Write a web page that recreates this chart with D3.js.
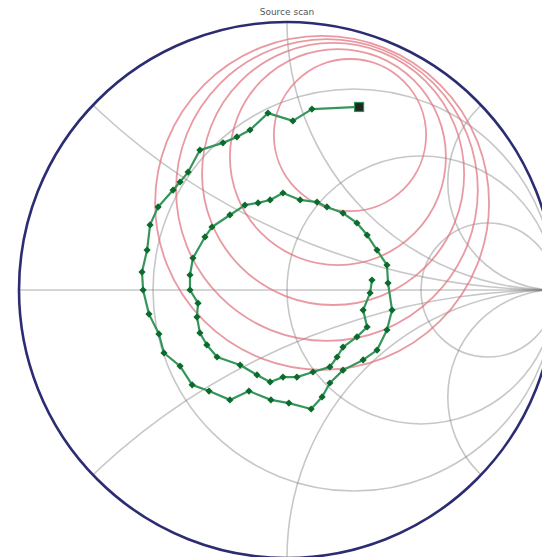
<!DOCTYPE html>
<html>
<head>
<meta charset="utf-8">
<script src="https://cdn.jsdelivr.net/npm/d3@7"></script>
<style>
  html, body { margin: 0; padding: 0; background: #fff; }
  svg { display: block; }
</style>
</head>
<body>
<div id="chart"></div>
<script>
// Reflection-coefficient trace (real / imaginary parts), in sweep order
const traceRe = [0.269, 0.093, 0.022, -0.071, -0.138, -0.187, -0.239, -0.325, -0.369, -0.399,
  -0.425, -0.481, -0.511, -0.522, -0.541, -0.537, -0.515, -0.478, -0.459, -0.399,
  -0.354, -0.291, -0.213, -0.142, -0.060, 0.007, 0.090, 0.131, 0.160, 0.209,
  0.284, 0.336, 0.373, 0.392, 0.377, 0.373, 0.336, 0.299, 0.261, 0.209,
  0.149, 0.112, 0.049, -0.015, -0.063, -0.108, -0.157, -0.213, -0.280, -0.306,
  -0.351, -0.362, -0.362, -0.332, -0.336, -0.325, -0.299, -0.261, -0.175, -0.112,
  -0.063, -0.015, 0.037, 0.097, 0.160, 0.187, 0.209, 0.261, 0.299, 0.284,
  0.310, 0.317];
const traceIm = [0.683, 0.675, 0.631, 0.660, 0.597, 0.571, 0.549, 0.522, 0.440, 0.403,
  0.373, 0.310, 0.243, 0.149, 0.067, 0.000, -0.090, -0.164, -0.235, -0.284,
  -0.354, -0.377, -0.410, -0.377, -0.410, -0.422, -0.444, -0.399, -0.347, -0.299,
  -0.261, -0.224, -0.149, -0.075, 0.026, 0.093, 0.149, 0.205, 0.250, 0.287,
  0.310, 0.328, 0.336, 0.362, 0.336, 0.325, 0.317, 0.280, 0.235, 0.198,
  0.119, 0.056, 0.000, -0.049, -0.101, -0.160, -0.205, -0.250, -0.280, -0.317,
  -0.343, -0.325, -0.325, -0.306, -0.287, -0.250, -0.213, -0.175, -0.138, -0.075,
  -0.011, 0.037];

// Constant-gain circles: centre (re, im) and radius in the reflection plane
const circleRe = [0.235, 0.190, 0.172, 0.149, 0.131];
const circleIm = [0.578, 0.496, 0.433, 0.373, 0.325];
const circleR  = [0.284, 0.403, 0.489, 0.563, 0.623];

// Grid values: normalised resistance circles and reactance arcs
const resistanceValues = [1 / 3, 1, 3];
const reactanceValues = [0.4, 1, 2.5, -0.4, -1, -2.5];

const chartLabel = "Source scan";

const W = 542, H = 557;
const cx = 287, cy = 290, R = 268;

const x = d3.scaleLinear().domain([-1, 1]).range([cx - R, cx + R]);
const y = d3.scaleLinear().domain([-1, 1]).range([cy + R, cy - R]);
const len = d => x(d) - x(0);

const svg = d3.select("#chart").append("svg")
  .attr("width", W).attr("height", H);

svg.append("defs").append("clipPath").attr("id", "disk")
  .append("circle").attr("cx", x(0)).attr("cy", y(0)).attr("r", len(1));

const grid = svg.append("g").attr("clip-path", "url(#disk)")
  .attr("fill", "none").attr("stroke", "#7a7a7a")
  .attr("stroke-opacity", 0.42).attr("stroke-width", 1.6);

// real axis
grid.append("line")
  .attr("x1", x(-1)).attr("x2", x(1)).attr("y1", y(0)).attr("y2", y(0));

// resistance circles
grid.selectAll("circle.res").data(resistanceValues).join("circle")
  .attr("class", "res")
  .attr("cx", r => x(r / (1 + r))).attr("cy", y(0))
  .attr("r", r => len(1 / (1 + r)));

// reactance arcs
grid.selectAll("circle.react").data(reactanceValues).join("circle")
  .attr("class", "react")
  .attr("cx", x(1)).attr("cy", v => y(1 / v))
  .attr("r", v => len(1 / Math.abs(v)));

// gain circles
svg.append("g").attr("fill", "none")
  .attr("stroke", "#e0727e").attr("stroke-opacity", 0.72).attr("stroke-width", 1.8)
  .selectAll("circle").data(circleR).join("circle")
  .attr("cx", (d, i) => x(circleRe[i])).attr("cy", (d, i) => y(circleIm[i]))
  .attr("r", d => len(d));

// outer boundary |Γ| = 1
svg.append("circle")
  .attr("cx", x(0)).attr("cy", y(0)).attr("r", len(1))
  .attr("fill", "none").attr("stroke", "#2c2c72").attr("stroke-width", 2.6);

// trace
const pts = traceRe.map((re, i) => [re, traceIm[i]]);
svg.append("path").datum(pts)
  .attr("fill", "none").attr("stroke", "#35965c").attr("stroke-width", 2.2)
  .attr("stroke-linejoin", "round")
  .attr("d", d3.line().x(d => x(d[0])).y(d => y(d[1])));

svg.append("g").selectAll("path").data(pts.slice(1)).join("path")
  .attr("transform", d => `translate(${x(d[0])},${y(d[1])}) rotate(45)`)
  .attr("d", d3.symbol().type(d3.symbolSquare).size(26))
  .attr("fill", "#0c6a2c");

svg.append("rect")
  .attr("x", x(pts[0][0]) - 4.5).attr("y", y(pts[0][1]) - 4.5)
  .attr("width", 9).attr("height", 9)
  .attr("fill", "#1a2a1e").attr("stroke", "#2f9157").attr("stroke-width", 1.2);

svg.append("text")
  .attr("x", x(0)).attr("y", 15)
  .attr("text-anchor", "middle")
  .attr("font-family", "DejaVu Sans, sans-serif").attr("font-size", 9)
  .attr("fill", "#555")
  .text(chartLabel);
</script>
</body>
</html>
